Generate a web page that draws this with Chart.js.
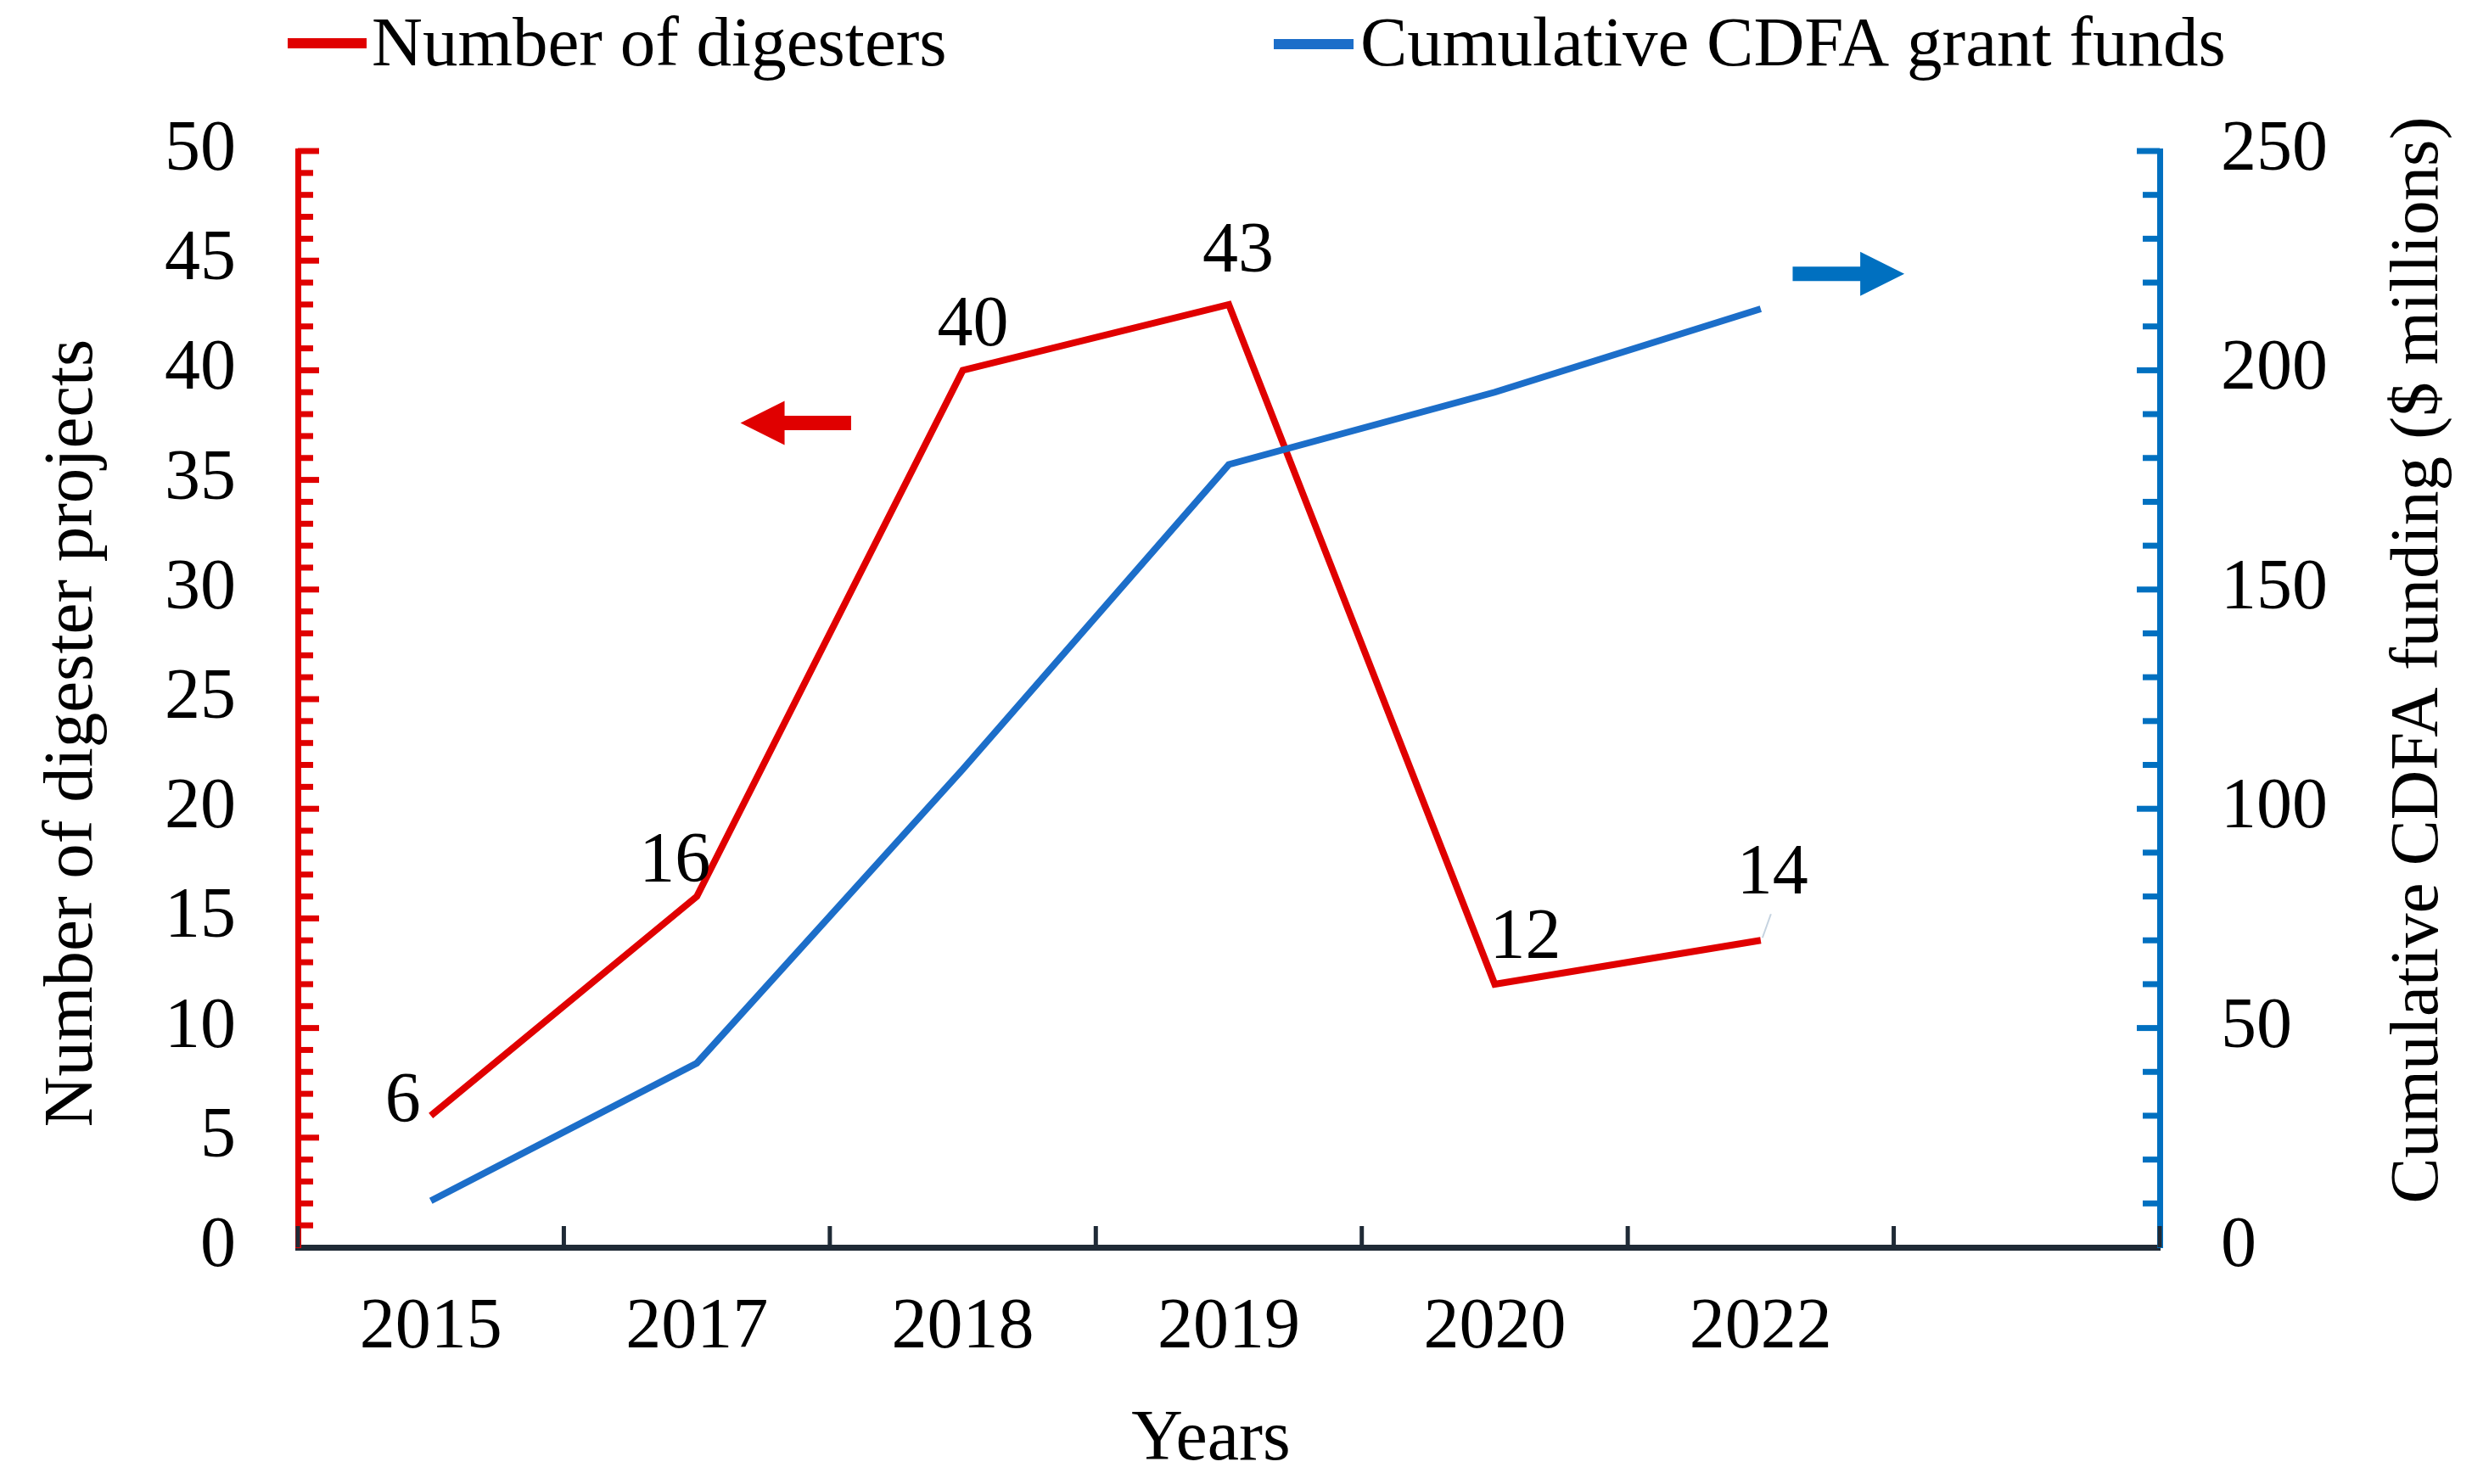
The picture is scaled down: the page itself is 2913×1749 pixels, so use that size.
<!DOCTYPE html>
<html>
<head>
<meta charset="utf-8">
<script src="https://cdn.jsdelivr.net/npm/chart.js@4.4.1/dist/chart.umd.min.js"></script>
<style>
    html, body { margin: 0; padding: 0; background: #fff; }
    #wrap { width: 2913px; height: 1749px; }
</style>
</head>
<body>
<div id="wrap"><canvas id="digesterChart" width="2913" height="1749"></canvas></div>
<script>
// Values
const years = ['2015', '2017', '2018', '2019', '2020', '2022', '']; // last slot is empty on the original axis
const digesters = [6, 16, 40, 43, 12, 14];
const grantFunds = [10.6, 42, 109, 178.5, 195, 214]; // $ millions, cumulative
const leftTickValues = [0, 5, 10, 15, 20, 25, 30, 35, 40, 45, 50];
const rightTickValues = [0, 50, 100, 150, 200, 250];

const RED = '#e00000';
const BLUE_LINE = '#1c6ec9';
const BLUE = '#0070c0';
const DARK = '#1f2a36';
const FONT = "'Liberation Serif', 'Times New Roman', serif";

Chart.defaults.font.family = FONT;
Chart.defaults.font.size = 84;
Chart.defaults.color = '#000';

function line(ctx, x1, y1, x2, y2) {
    ctx.beginPath();
    ctx.moveTo(x1, y1);
    ctx.lineTo(x2, y2);
    ctx.stroke();
}

function drawArrow(ctx, tailX, tipX, cy, color) {
    const dir = Math.sign(tipX - tailX);
    const headLen = 52, headHalf = 26, shaftHalf = 8.5;
    const neck = tipX - dir * headLen;
    ctx.fillStyle = color;
    ctx.beginPath();
    ctx.moveTo(tailX, cy - shaftHalf);
    ctx.lineTo(neck, cy - shaftHalf);
    ctx.lineTo(neck, cy - headHalf);
    ctx.lineTo(tipX, cy);
    ctx.lineTo(neck, cy + headHalf);
    ctx.lineTo(neck, cy + shaftHalf);
    ctx.lineTo(tailX, cy + shaftHalf);
    ctx.closePath();
    ctx.fill();
}

// Excel-style tick marks pointing into the plot
const innerTicks = {
    id: 'innerTicks',
    afterDraw(chart) {
        const { ctx, chartArea: a, scales: { x, y, y1 } } = chart;
        ctx.save();
        ctx.lineCap = 'butt';

        ctx.strokeStyle = RED;
        ctx.lineWidth = 7;
        for (let v = 1; v <= 50; v++) {
            const py = y.getPixelForValue(v);
            line(ctx, a.left, py, a.left + (v % 5 === 0 ? 25 : 18), py);
        }

        ctx.strokeStyle = BLUE;
        for (let v = 10; v <= 250; v += 10) {
            const py = y1.getPixelForValue(v);
            line(ctx, a.right, py, a.right - (v % 50 === 0 ? 27 : 20), py);
        }

        ctx.strokeStyle = DARK;
        ctx.lineWidth = 5;
        for (let k = 0; k <= years.length; k++) {
            const px = x.getPixelForValue(k - 0.5);
            line(ctx, px, a.bottom, px, a.bottom - 25);
        }
        ctx.restore();
    }
};

// Value labels next to the red line
const pointLabels = {
    id: 'pointLabels',
    afterDatasetsDraw(chart, args, opts) {
        const { ctx } = chart;
        const meta = chart.getDatasetMeta(opts.datasetIndex);
        const values = chart.data.datasets[opts.datasetIndex].data;
        ctx.save();
        ctx.font = '84px ' + FONT;
        ctx.fillStyle = '#000';
        ctx.textAlign = 'center';
        ctx.textBaseline = 'middle';
        meta.data.forEach((pt, i) => {
            const [dx, dy] = opts.offsets[i];
            ctx.fillText(String(values[i]), pt.x + dx, pt.y + dy);
            const lead = opts.leaders[i];
            if (lead) {
                ctx.strokeStyle = '#c5d3e0';
                ctx.lineWidth = 2;
                line(ctx, pt.x + lead[0], pt.y + lead[1], pt.x + lead[2], pt.y + lead[3]);
            }
        });
        ctx.restore();
    }
};

// Legend, axis titles and the two arrows
const decorations = {
    id: 'decorations',
    afterDraw(chart, args, opts) {
        const { ctx, scales: { x, y, y1 } } = chart;
        const ds = chart.data.datasets;
        ctx.save();

        // legend
        ctx.lineCap = 'butt';
        ctx.lineWidth = 12;
        ctx.font = '83px ' + FONT;
        ctx.fillStyle = '#000';
        ctx.textAlign = 'left';
        ctx.textBaseline = 'alphabetic';
        opts.legend.forEach((item, i) => {
            ctx.strokeStyle = ds[i].borderColor;
            line(ctx, item.x1, item.lineY, item.x2, item.lineY);
            ctx.fillText(ds[i].label, item.textX, 77);
        });

        // axis titles
        ctx.textAlign = 'center';
        ctx.font = '83px ' + FONT;
        ctx.save();
        ctx.translate(108, 864);
        ctx.rotate(-Math.PI / 2);
        ctx.fillText(opts.leftTitle, 0, 0);
        ctx.restore();

        ctx.font = '81px ' + FONT;
        ctx.save();
        ctx.translate(2872, 778);
        ctx.rotate(-Math.PI / 2);
        ctx.fillText(opts.rightTitle, 0, 0);
        ctx.restore();

        ctx.font = '84px ' + FONT;
        ctx.fillText(opts.xTitle, 1427, 1720);

        // arrows pointing at each series' axis
        drawArrow(ctx, x.getPixelForValue(1.58), x.getPixelForValue(1.164), y.getPixelForValue(37.6), RED);
        drawArrow(ctx, x.getPixelForValue(5.12), x.getPixelForValue(5.54), y1.getPixelForValue(222), BLUE);

        ctx.restore();
    }
};

const ctx = document.getElementById('digesterChart').getContext('2d');
new Chart(ctx, {
    type: 'line',
    data: {
        labels: years,
        datasets: [{
            label: 'Number of digesters',
            data: digesters,
            borderColor: RED,
            borderWidth: 8,
            pointRadius: 0,
            tension: 0,
            yAxisID: 'y',
            order: 2
        }, {
            label: 'Cumulative CDFA grant funds',
            data: grantFunds,
            borderColor: BLUE_LINE,
            borderWidth: 8,
            pointRadius: 0,
            tension: 0,
            yAxisID: 'y1',
            order: 1
        }]
    },
    options: {
        responsive: false,
        devicePixelRatio: 1,
        animation: false,
        layout: { padding: { top: 178, left: 0, right: 0, bottom: 0 } },
        scales: {
            x: {
                type: 'category',
                offset: true,
                grid: { display: false, drawTicks: false },
                border: { color: DARK, width: 7 },
                ticks: { padding: 46, maxRotation: 0, autoSkip: false },
                afterFit: s => { s.height = 279; }
            },
            y: {
                position: 'left',
                min: 0,
                max: 50,
                grid: { display: false, drawTicks: false },
                border: { color: RED, width: 7 },
                ticks: { padding: 73 },
                afterBuildTicks: s => { s.ticks = leftTickValues.map(v => ({ value: v })); },
                afterFit: s => { s.width = 351; }
            },
            y1: {
                position: 'right',
                min: 0,
                max: 250,
                grid: { display: false, drawTicks: false },
                border: { color: BLUE, width: 7 },
                ticks: { padding: 72 },
                afterBuildTicks: s => { s.ticks = rightTickValues.map(v => ({ value: v })); },
                afterFit: s => { s.width = 368; }
            }
        },
        plugins: {
            legend: { display: false },
            tooltip: { enabled: false },
            pointLabels: {
                datasetIndex: 0,
                offsets: [[-33, -15], [-26, -40], [12, -51], [11, -61], [36, -53], [14, -77]],
                leaders: { 5: [2, -3, 12, -31] }
            },
            decorations: {
                legend: [
                    { x1: 339, x2: 432, lineY: 51, textX: 438 },
                    { x1: 1501, x2: 1595, lineY: 52, textX: 1603 }
                ],
                leftTitle: 'Number of digester projects',
                rightTitle: 'Cumulative CDFA funding ($ millions)',
                xTitle: 'Years'
            }
        }
    },
    plugins: [innerTicks, pointLabels, decorations]
});
</script>
</body>
</html>
